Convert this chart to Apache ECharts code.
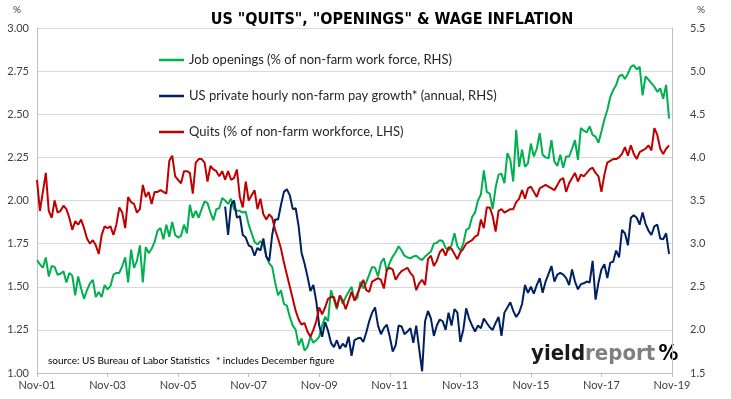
<!DOCTYPE html>
<html>
<head>
<meta charset="utf-8">
<script src="https://cdn.jsdelivr.net/npm/echarts@6/dist/echarts.min.js"></script>
<style>
  html, body { margin: 0; padding: 0; background: #fff; }
  #chart { width: 731px; height: 399px; }
</style>
</head>
<body>
<div id="chart"></div>
<script>
// monthly, Nov-01 .. Nov-19
const monthNames = ['Jan', 'Feb', 'Mar', 'Apr', 'May', 'Jun', 'Jul', 'Aug', 'Sep', 'Oct', 'Nov', 'Dec']
const categories = []
for (let k = 0; k <= 216; k++) {
  const m = (10 + k) % 12
  const y = 1 + Math.floor((10 + k) / 12)
  categories.push(monthNames[m] + '-' + String(y).padStart(2, '0'))
}

// Quits (% of non-farm workforce, LHS)
const quits = [
  2.12, 1.94, 2.05, 2.16, 1.94, 1.90, 2.00, 1.93, 1.94, 1.97,
  1.95, 1.90, 1.83, 1.88, 1.86, 1.89, 1.84, 1.78, 1.75, 1.77,
  1.74, 1.69, 1.80, 1.85, 1.84, 1.85, 1.80, 1.86, 1.96, 1.93,
  1.84, 2.02, 1.99, 1.98, 1.93, 1.95, 2.09, 2.02, 2.05, 1.98,
  2.05, 2.05, 2.06, 2.05, 2.04, 2.23, 2.26, 2.14, 2.12, 2.10,
  2.17, 2.17, 2.16, 2.04, 2.22, 2.24, 2.24, 2.22, 2.11, 2.20,
  2.18, 2.17, 2.14, 2.17, 2.12, 2.17, 2.12, 2.13, 2.18, 2.02,
  1.96, 2.11, 2.00, 2.03, 2.06, 1.95, 2.01, 1.92, 1.89, 1.92,
  1.90, 1.83, 1.78, 1.72, 1.64, 1.57, 1.50, 1.43, 1.36, 1.31,
  1.28, 1.29, 1.24, 1.21, 1.25, 1.30, 1.38, 1.34, 1.38, 1.43,
  1.44, 1.44, 1.38, 1.45, 1.42, 1.37, 1.42, 1.47, 1.42, 1.46,
  1.50, 1.54, 1.48, 1.47, 1.53, 1.54, 1.55, 1.54, 1.49, 1.60,
  1.61, 1.60, 1.54, 1.57, 1.59, 1.60, 1.61, 1.58, 1.56, 1.48,
  1.52, 1.54, 1.51, 1.66, 1.68, 1.62, 1.65, 1.70, 1.72, 1.68,
  1.73, 1.72, 1.69, 1.66, 1.70, 1.72, 1.75, 1.76, 1.77, 1.79,
  1.80, 1.89, 1.84, 1.96, 1.96, 1.91, 1.82, 1.94, 1.95, 1.93,
  1.94, 1.95, 1.95, 1.99, 2.01, 2.06, 2.01, 2.07, 2.08, 2.05,
  2.02, 2.07, 2.08, 2.09, 2.08, 2.07, 2.06, 2.09, 2.12, 2.13,
  2.05, 2.10, 2.13, 2.16, 2.11, 2.15, 2.14, 2.16, 2.18, 2.19,
  2.16, 2.14, 2.05, 2.15, 2.22, 2.23, 2.24, 2.24, 2.25, 2.27,
  2.31, 2.26, 2.32, 2.27, 2.24, 2.28, 2.29, 2.30, 2.32, 2.29,
  2.42, 2.38, 2.30, 2.27, 2.30, 2.32
]

// Job openings (% of non-farm work force, RHS)
const openings = [
  2.81, 2.76, 2.72, 2.84, 2.62, 2.74, 2.73, 2.64, 2.65, 2.68,
  2.55, 2.66, 2.63, 2.40, 2.62, 2.48, 2.36, 2.46, 2.54, 2.58,
  2.38, 2.44, 2.38, 2.52, 2.47, 2.51, 2.64, 2.66, 2.66, 2.74,
  2.84, 2.55, 2.93, 2.72, 2.80, 2.98, 2.55, 2.96, 2.89, 2.94,
  3.02, 3.15, 3.18, 3.05, 3.22, 3.08, 3.25, 3.10, 3.07, 3.09,
  3.22, 3.12, 3.45, 3.30, 3.38, 3.30, 3.40, 3.49, 3.47, 3.36,
  3.27, 3.40, 3.41, 3.53, 3.50, 3.46, 3.52, 3.40, 3.38, 3.38,
  3.36, 3.37, 3.22, 3.12, 3.02, 2.99, 3.03, 2.99, 2.85, 2.77,
  2.73, 2.55, 2.40, 2.46, 2.30, 2.28, 2.15, 2.05, 2.00, 1.82,
  1.90, 1.76, 1.80, 1.92, 1.85, 1.88, 1.92, 2.05, 2.15, 2.10,
  2.46, 2.35, 2.24, 2.40, 2.30, 2.38, 2.44, 2.50, 2.34, 2.37,
  2.56, 2.48, 2.55, 2.64, 2.73, 2.72, 2.62, 2.78, 2.83, 2.68,
  2.78, 2.85, 2.90, 2.97, 2.92, 2.86, 2.84, 2.83, 2.85, 2.86,
  2.83, 2.81, 2.85, 2.88, 2.91, 3.00, 3.01, 3.04, 3.03, 2.95,
  2.92, 2.98, 3.12, 2.97, 2.92, 3.00, 3.16, 3.18, 3.31, 3.36,
  3.50, 3.57, 3.85, 3.60, 3.58, 3.40, 3.65, 3.80, 3.81, 3.70,
  4.05, 3.97, 3.72, 4.32, 3.89, 4.09, 3.89, 3.93, 4.16, 4.01,
  4.10, 4.28, 4.03, 4.00, 3.99, 4.20, 3.95, 3.90, 4.03, 3.88,
  4.01, 4.01, 4.10, 4.20, 3.97, 4.34, 4.31, 4.29, 4.36, 4.26,
  4.24, 4.17, 4.30, 4.44, 4.55, 4.70, 4.78, 4.84, 4.94, 4.96,
  4.91, 4.97, 5.05, 5.07, 5.02, 5.05, 4.72, 4.94, 4.90, 4.86,
  4.82, 4.76, 4.80, 4.68, 4.84, 4.45
]

// US private hourly pay growth (annual, RHS), starts Mar-07
const wageStart = 64
const wages = [
  3.43, 3.10, 3.45, 3.50, 3.30, 3.32,
  3.10, 3.07, 2.98, 2.96, 2.86, 2.95, 2.92, 3.06, 2.85, 2.80,
  3.10, 3.28, 3.28, 3.45, 3.60, 3.63, 3.56, 3.40, 3.41, 3.20,
  2.89, 2.77, 2.62, 2.45, 2.52, 2.33, 2.05, 1.92, 2.09, 1.99,
  1.85, 1.80, 1.88, 1.78, 1.84, 1.80, 1.92, 1.70, 1.88, 1.90,
  1.91, 1.86, 1.97, 2.10, 2.20, 2.26, 2.05, 1.95, 2.02, 2.06,
  1.92, 1.75, 1.82, 2.05, 2.04, 1.95, 1.98, 2.02, 1.85, 2.05,
  1.78, 1.52, 2.10, 2.22, 2.13, 1.93, 2.05, 2.12, 2.10, 2.00,
  2.20, 2.05, 2.24, 2.20, 1.86, 2.00, 2.25, 2.13, 2.05, 1.98,
  2.05, 2.02, 2.13, 2.08, 2.03, 2.00, 2.08, 2.15, 1.93, 2.20,
  2.26, 2.32, 2.22, 2.15, 2.20, 2.30, 2.52, 2.43, 2.50, 2.42,
  2.52, 2.60, 2.43, 2.56, 2.65, 2.74, 2.56, 2.64, 2.66, 2.64,
  2.60, 2.52, 2.70, 2.56, 2.47, 2.53, 2.54, 2.56, 2.55, 2.80,
  2.35, 2.55, 2.70, 2.76, 2.60, 2.78, 2.79, 2.92, 2.84, 3.16,
  3.12, 2.98, 3.30, 3.33, 3.30, 3.22, 3.36, 3.23, 3.15, 3.10,
  3.20, 3.22, 3.06, 3.05, 3.12, 2.88
]

const seriesNames = [
  'Job openings (% of non-farm work force, RHS)',
  'US private hourly non-farm pay growth* (annual, RHS)',
  'Quits (% of non-farm workforce, LHS)'
]

const font = 'Lato, "Open Sans", sans-serif'
const labelColor = '#404040'
const logoFont = '"DejaVu Sans Condensed", sans-serif'

const myChart = echarts.init(document.getElementById('chart'), null, { renderer: 'canvas' })

const option = {
  animation: false,
  backgroundColor: '#fff',
  grid: { left: 37, right: 59, top: 28, bottom: 26 },
  title: {
    text: 'US "QUITS", "OPENINGS" & WAGE INFLATION',
    left: 387,
    top: 7,
    textAlign: 'center',
    textStyle: { fontSize: 16, fontWeight: 'bold', color: '#000', fontFamily: '"Liberation Sans Narrow", "DejaVu Sans Condensed", sans-serif' }
  },
  legend: {
    data: seriesNames.map((n) => ({ name: n, icon: 'rect' })),
    orient: 'vertical',
    left: 154,
    top: 47,
    itemWidth: 25,
    itemHeight: 2.5,
    itemGap: 20,
    textStyle: { fontSize: 13, lineHeight: 16, color: '#262626', fontFamily: font }
  },
  xAxis: {
    type: 'category',
    data: categories,
    boundaryGap: false,
    axisLine: { lineStyle: { color: '#bfbfbf' } },
    axisTick: {
      length: 4,
      interval: (i) => i % 24 === 0,
      lineStyle: { color: '#bfbfbf' }
    },
    axisLabel: {
      interval: (i) => i % 24 === 0,
      color: labelColor,
      fontSize: 11,
      margin: 7,
      fontFamily: font
    },
    splitLine: { show: false }
  },
  yAxis: [
    {
      type: 'value',
      min: 1,
      max: 3,
      interval: 0.25,
      axisLine: { show: true, lineStyle: { color: '#bfbfbf' } },
      axisTick: { show: false },
      axisLabel: { color: labelColor, fontSize: 11, margin: 8, fontFamily: font, formatter: (v) => v.toFixed(2) },
      splitLine: { lineStyle: { color: '#d9d9d9' } }
    },
    {
      type: 'value',
      min: 1.5,
      max: 5.5,
      interval: 0.5,
      position: 'right',
      axisLine: { show: true, lineStyle: { color: '#bfbfbf' } },
      axisTick: { show: false },
      axisLabel: { color: labelColor, fontSize: 11, margin: 18, fontFamily: font, formatter: (v) => v.toFixed(1) },
      splitLine: { show: false }
    }
  ],
  series: [
    {
      name: seriesNames[0],
      type: 'line',
      yAxisIndex: 1,
      data: openings,
      showSymbol: false,
      color: '#00b050',
      lineStyle: { width: 2 }
    },
    {
      name: seriesNames[1],
      type: 'line',
      yAxisIndex: 1,
      data: new Array(wageStart).fill(null).concat(wages),
      showSymbol: false,
      color: '#002060',
      lineStyle: { width: 2 }
    },
    {
      name: seriesNames[2],
      type: 'line',
      yAxisIndex: 0,
      data: quits,
      showSymbol: false,
      color: '#c00000',
      lineStyle: { width: 2 }
    }
  ],
  graphic: [
    { type: 'text', left: 13, top: 5, style: { text: '%', fontSize: 10, fill: labelColor, fontFamily: font } },
    { type: 'text', left: 697, top: 5, style: { text: '%', fontSize: 10, fill: labelColor, fontFamily: font } },
    {
      type: 'text', left: 48, top: 356,
      style: { text: 'source: US Bureau of Labor Statistics', fontSize: 10, fill: '#000', fontFamily: font }
    },
    {
      type: 'text', left: 216, top: 356,
      style: { text: '* includes December figure', fontSize: 10, fill: '#000', fontFamily: font }
    },
    {
      type: 'text', left: 531, top: 343,
      style: {
        text: '{a|yield}{b|report} {c|%}',
        rich: {
          a: { fontSize: 22, fontWeight: 'bold', fill: '#1a1a1a', fontFamily: logoFont },
          b: { fontSize: 22, fontWeight: 'bold', fill: '#7f7f7f', fontFamily: logoFont },
          c: {
            fontSize: 22, fontWeight: 'bold', fontFamily: logoFont,
            fill: new echarts.graphic.LinearGradient(0, 0, 0, 1, [
              { offset: 0, color: '#1aa04a' },
              { offset: 0.45, color: '#1aa04a' },
              { offset: 0.5, color: '#3a3a3a' },
              { offset: 0.55, color: '#c00000' },
              { offset: 1, color: '#c00000' }
            ])
          }
        }
      }
    }
  ]
}

myChart.setOption(option)
window.addEventListener('resize', () => myChart.resize())
</script>
</body>
</html>
